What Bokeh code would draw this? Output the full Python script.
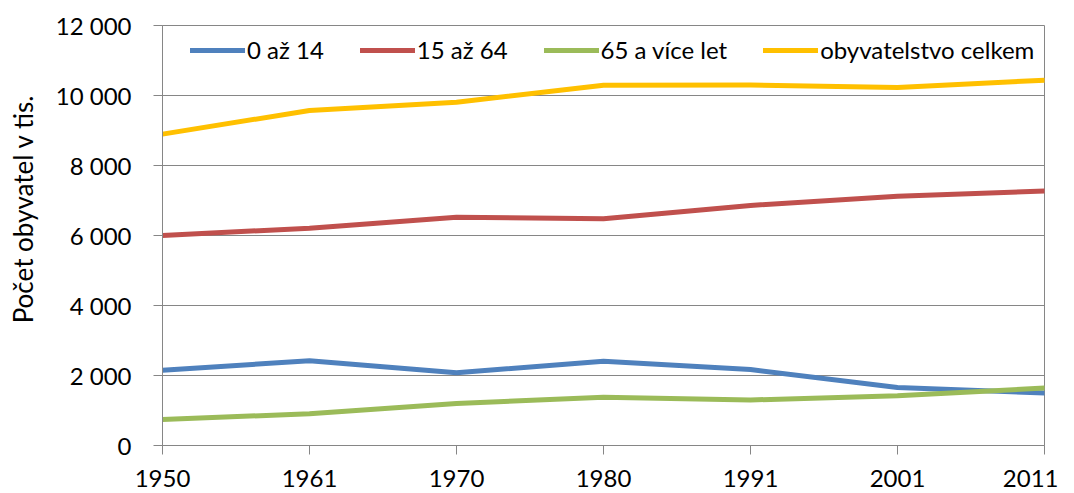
from bokeh.plotting import figure
from bokeh.models import FixedTicker, Legend, LegendItem, Range1d
from bokeh.embed import file_html
from bokeh.resources import INLINE

years = ["1950", "1961", "1970", "1980", "1991", "2001", "2011"]
age_0_14 = [2150, 2420, 2080, 2410, 2170, 1660, 1500]
age_15_64 = [6000, 6210, 6520, 6480, 6860, 7120, 7270]
age_65_plus = [740, 910, 1200, 1380, 1300, 1420, 1640]
total = [8896, 9572, 9808, 10292, 10302, 10230, 10437]
y_ticks = [0, 2000, 4000, 6000, 8000, 10000, 12000]

series_names = ["0 až 14", "15 až 64", "65 a více let", "obyvatelstvo celkem"]
series_values = [age_0_14, age_15_64, age_65_plus, total]
colors = ["#4F81BD", "#C0504D", "#9BBB59", "#FFC000"]

FONT = "Lato"
GRAY = "#868686"

xs = list(range(len(years)))

p = figure(width=1058, height=493, output_backend="svg", toolbar_location=None,
           x_range=Range1d(0, len(years) - 1), y_range=Range1d(0, 12000),
           min_border_left=162, min_border_right=14, min_border_top=25, min_border_bottom=48)

p.background_fill_color = "white"
p.border_fill_color = "white"
p.outline_line_color = GRAY
p.outline_line_width = 1

renderers = []
for vals, c in zip(series_values, colors):
    r = p.line(xs, vals, line_color=c, line_width=5, line_cap="round", line_join="round")
    renderers.append(r)

# axes
p.xaxis.ticker = FixedTicker(ticks=xs)
p.xaxis.major_label_overrides = {i: y for i, y in enumerate(years)}
p.yaxis.ticker = FixedTicker(ticks=y_ticks)
p.yaxis.major_label_overrides = {v: f"{v:,}".replace(",", " ") for v in y_ticks}

for ax in (p.xaxis[0], p.yaxis[0]):
    ax.axis_line_color = GRAY
    ax.axis_line_width = 1
    ax.major_tick_line_color = GRAY
    ax.major_tick_out = 9
    ax.major_tick_in = 0
    ax.minor_tick_line_color = None
    ax.major_label_text_font = FONT
    ax.major_label_text_font_size = "24px"
    ax.major_label_text_color = "black"

p.xaxis.major_label_standoff = 15
p.yaxis.major_label_standoff = 22

p.yaxis.axis_label = "\u00a0" * 8 + "Počet obyvatel v tis."
p.yaxis.axis_label_text_font = FONT
p.yaxis.axis_label_text_font_size = "26px"
p.yaxis.axis_label_text_font_style = "normal"
p.yaxis.axis_label_text_color = "black"
p.yaxis.axis_label_standoff = 14

p.xgrid.grid_line_color = None
p.ygrid.grid_line_color = GRAY
p.ygrid.grid_line_width = 1

legend = Legend(items=[LegendItem(label=n, renderers=[r]) for n, r in zip(series_names, renderers)],
                orientation="horizontal", location=(28, 381))
legend.padding = 0
legend.margin = 0
legend.spacing = 36
legend.glyph_width = 55
legend.glyph_height = 24
legend.label_height = 24
legend.label_standoff = 2
legend.label_text_font = FONT
legend.label_text_font_size = "24px"
legend.label_text_color = "black"
legend.background_fill_alpha = 0
legend.border_line_alpha = 0
p.add_layout(legend)

open("out.html", "w").write(file_html(p, INLINE))
